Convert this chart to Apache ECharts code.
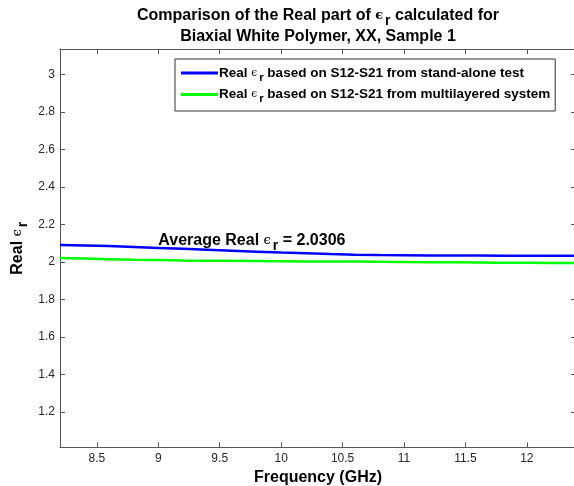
<!DOCTYPE html>
<html><head><meta charset="utf-8">
<script src="https://cdn.jsdelivr.net/npm/echarts@6/dist/echarts.min.js"></script>
<style>html,body{margin:0;padding:0;background:#fff}#c{width:574px;height:486px}</style>
</head><body><div id="c"></div>
<script>
const freq = [8.2, 8.4, 8.6, 8.8, 9.0, 9.2, 9.4, 9.6, 9.8, 10.0, 10.2, 10.4, 10.6, 10.8, 11.0, 11.2, 11.4, 11.6, 11.8, 12.0, 12.2, 12.4];
const standAlone = [2.090, 2.087, 2.084, 2.079, 2.074, 2.069, 2.064, 2.059, 2.054, 2.049, 2.045, 2.041, 2.038, 2.036, 2.035, 2.034, 2.033, 2.033, 2.032, 2.032, 2.032, 2.032];
const multilayer = [2.020, 2.017, 2.014, 2.011, 2.009, 2.007, 2.006, 2.005, 2.004, 2.003, 2.002, 2.001, 2.001, 2.000, 1.999, 1.998, 1.997, 1.996, 1.995, 1.995, 1.994, 1.994];
const xTicks = [8.5, 9, 9.5, 10, 10.5, 11, 11.5, 12];
const yTicks = [1.2, 1.4, 1.6, 1.8, 2, 2.2, 2.4, 2.6, 2.8, 3];
const seriesNames = ['stand', 'multi'];
const legendText = {
  stand: '{t|Real }{e|ϵ}{r|r}{t| based on S12-S21 from stand-alone test}',
  multi: '{t|Real }{e|ϵ}{r|r}{t| based on S12-S21 from multilayered system}'
};
const avgLabel = 'Average Real';
const avgValue = '2.0306';
const avgPos = [9.0, 2.112];

const FONT = '"Liberation Sans", Arial, Helvetica, sans-serif';
const AX = '#555555';
const TXT = '#262626';
const chart = echarts.init(document.getElementById('c'), null, {renderer: 'canvas'});

function axisBase(show) {
  return {
    axisLine: {show: true, onZero: false, lineStyle: {color: AX, width: 1}},
    axisTick: {show: true, inside: true, length: 5, lineStyle: {color: AX}},
    splitLine: {show: false},
    axisLabel: {show: show, color: TXT, fontSize: 12, fontFamily: FONT}
  };
}
const xb = axisBase(true), xt = axisBase(false), yl = axisBase(true), yr = axisBase(false);
xb.axisTick.customValues = xTicks; xb.axisLabel.customValues = xTicks; xb.axisLabel.margin = 5;
xt.axisTick.customValues = xTicks;
yl.axisTick.customValues = yTicks; yl.axisLabel.customValues = yTicks; yl.axisLabel.margin = 5;
yr.axisTick.customValues = yTicks;

function rich(size, fillKey) {
  const o = {};
  o.t = {fontSize: size, fontWeight: 'bold', fontFamily: FONT};
  o.e = {fontSize: size - 3, fontFamily: '"DejaVu Serif", serif'};
  o.r = {fontSize: size - 2, fontWeight: 'bold', fontFamily: FONT, padding: [Math.round(size * 0.7), 0, 0, 2]};
  Object.values(o).forEach(s => { s[fillKey] = '#000'; });
  return o;
}

chart.setOption({
  animation: false,
  backgroundColor: '#fff',
  title: {
    text: '{t|Comparison of the Real part of }{e|ϵ}{r|r}{t| calculated for}\n{t|Biaxial White Polymer, XX, Sample 1}',
    left: 313, top: 0, textAlign: 'center',
    textStyle: {lineHeight: 21, rich: Object.fromEntries(Object.entries(rich(16, 'color')).map(([k, v]) => [k, Object.assign(v, {lineHeight: 21})]))}
  },
  grid: {left: 60, top: 49, width: 516, height: 398.4, containLabel: false, outerBoundsMode: 'none'},
  xAxis: [
    Object.assign({type: 'value', position: 'bottom', min: 8.2, max: 12.4,
      name: 'Frequency (GHz)', nameLocation: 'middle', nameGap: 17,
      nameTextStyle: {fontSize: 16, fontWeight: 'bold', color: '#000', fontFamily: FONT}}, xb),
    Object.assign({type: 'value', position: 'top', min: 8.2, max: 12.4}, xt)
  ],
  yAxis: [
    Object.assign({type: 'value', position: 'left', min: 1.01, max: 3.135,
      name: '{t|Real }{e|ϵ}{r|r}', nameLocation: 'middle', nameGap: 30, nameRotate: 90, nameMoveOverlap: false,
      nameTextStyle: {rich: rich(16, 'color')}}, yl),
    Object.assign({type: 'value', position: 'right', min: 1.01, max: 3.135}, yr)
  ],
  legend: {
    data: seriesNames,
    orient: 'vertical',
    left: 175, top: 59,
    backgroundColor: '#fff',
    borderColor: '#333', borderWidth: 1,
    padding: [7, 5, 6, 6],
    itemGap: 4,
    icon: 'rect',
    itemWidth: 37, itemHeight: 3,
    formatter: n => legendText[n],
    textStyle: {rich: rich(13.5, 'color'), padding: [0, 0, 0, -4]}
  },
  series: [
    {name: 'stand', type: 'line', data: freq.map((f, i) => [f, standAlone[i]]), showSymbol: false, symbol: 'none',
     lineStyle: {color: '#0000ff', width: 2.5}, itemStyle: {color: '#0000ff'}, clip: true},
    {name: 'multi', type: 'line', data: freq.map((f, i) => [f, multilayer[i]]), showSymbol: false, symbol: 'none',
     lineStyle: {color: '#00ff00', width: 2.5}, itemStyle: {color: '#00ff00'}, clip: true}
  ]
});

const p = chart.convertToPixel({xAxisIndex: 0, yAxisIndex: 0}, avgPos);
chart.setOption({
  graphic: [{
    type: 'text', x: p[0], y: p[1],
    style: {
      text: '{t|' + avgLabel + ' }{e|ϵ}{r|r}{t| = ' + avgValue + '}',
      verticalAlign: 'middle', align: 'left',
      rich: rich(16, 'fill')
    }
  }]
});
</script>
</body></html>
